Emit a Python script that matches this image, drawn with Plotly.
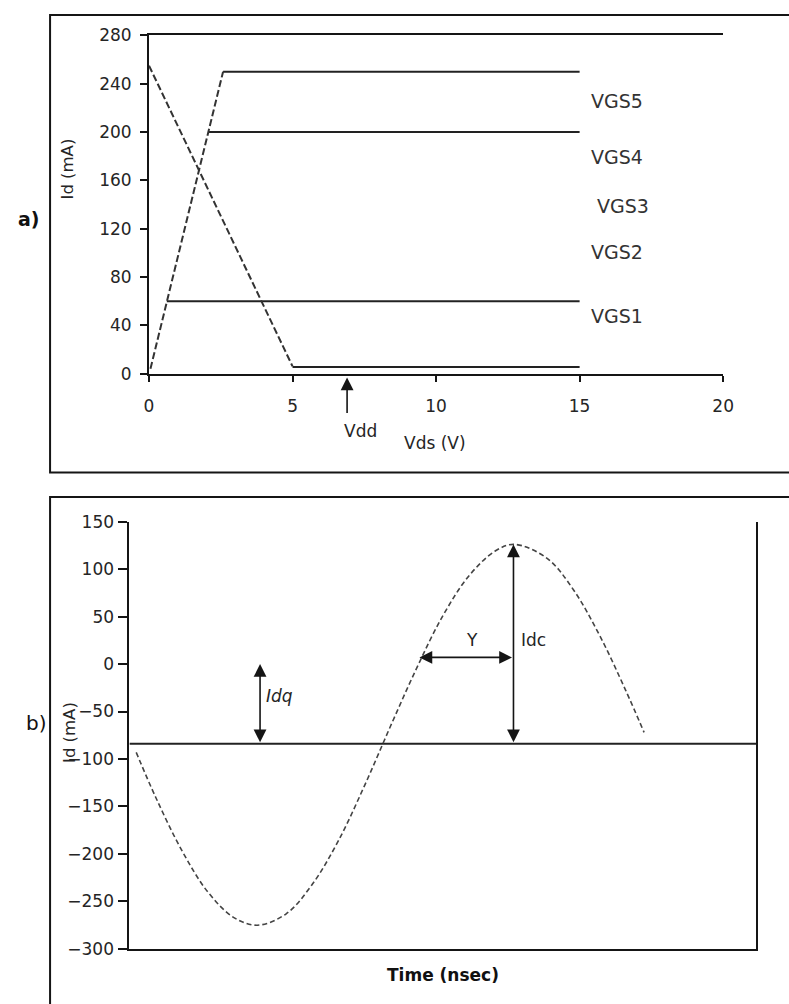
import plotly.graph_objects as go

# ---------------- Panel a) data ----------------
vds_ticks = [0, 5, 10, 15, 20]
id_ticks_a = [0, 40, 80, 120, 160, 200, 240, 280]
plateau_id = [250, 200, 60, 5.5]          # mA
plateau_start = [2.58, 2.09, 0.62, 5.0]   # V
plateau_end = [15, 15, 15, 15]            # V
rise_vds = [0.05, 2.58]
rise_id = [4, 250]
load_vds = [0, 5]
load_id = [255, 6]
vdd_v = 6.9
vgs_names = ["VGS5", "VGS4", "VGS3", "VGS2", "VGS1"]

# ---------------- Panel b) data ----------------
t_ticks = [0, 0.2, 0.4, 0.6, 0.8, 1.0, 1.2]
t_ticktext = ["0", "0.2", "0.4", "0.6", "0.8", "1", "1.2"]
id_ticks_b = [150, 100, 50, 0, -50, -100, -150, -200, -250, -300]
t_ns = [0.013, 0.05, 0.10, 0.15, 0.20, 0.245, 0.30, 0.35, 0.40, 0.45, 0.50,
        0.55, 0.60, 0.65, 0.70, 0.737, 0.80, 0.85, 0.90, 0.95, 0.985]
id_ma = [-93, -140, -196, -240, -267, -275, -263, -232, -186, -128, -65,
         -4, 51, 93, 119, 126, 111, 78, 30, -28, -72]
idq_ma = -84
idq_t = 0.25
idc_t = 0.735
idc_peak = 126
y_span = [0.555, 0.735]
y_level = 7

W, H = 789, 1004
def px(v): return v / W
def py(v): return 1 - v / H

FONT = "DejaVu Sans"
INK = "#151515"
TXT = "#252525"

fig = go.Figure()

# panel a traces
for lvl, x0, x1 in zip(plateau_id, plateau_start, plateau_end):
    fig.add_trace(go.Scatter(x=[x0, x1], y=[lvl, lvl], mode="lines",
                             line=dict(color="#222", width=2),
                             xaxis="x", yaxis="y", hoverinfo="skip"))
fig.add_trace(go.Scatter(x=rise_vds, y=rise_id, mode="lines",
                         line=dict(color="#333", width=2, dash="7px,3px"),
                         xaxis="x", yaxis="y"))
fig.add_trace(go.Scatter(x=load_vds, y=load_id, mode="lines",
                         line=dict(color="#333", width=2, dash="7px,3px"),
                         xaxis="x", yaxis="y"))

# panel b traces
fig.add_trace(go.Scatter(x=[0, 1.2], y=[idq_ma, idq_ma], mode="lines",
                         line=dict(color="#222", width=2),
                         xaxis="x2", yaxis="y2"))
fig.add_trace(go.Scatter(x=t_ns, y=id_ma, mode="lines", line_shape="spline",
                         line=dict(color="#444", width=1.6, dash="5px,3px"),
                         xaxis="x2", yaxis="y2"))

ax_common = dict(showgrid=False, zeroline=False, showline=True,
                 linecolor=INK, linewidth=2, ticks="outside",
                 tickcolor=INK, tickwidth=1.5,
                 tickfont=dict(family=FONT, size=17, color=TXT))

dom_b = [py(958), py(522)]
pos_zero = dom_b[0] + (0 - (-300)) / 450 * (dom_b[1] - dom_b[0])

fig.update_layout(
    width=W, height=H, margin=dict(l=0, r=0, t=0, b=0),
    paper_bgcolor="white", plot_bgcolor="white", showlegend=False,
    font=dict(family=FONT, color=TXT),
    xaxis=dict(ax_common, domain=[px(147), px(733)], range=[0, 20], anchor="y",
               tickvals=vds_ticks, mirror=True, ticklen=6, ticklabelstandoff=10),
    yaxis=dict(ax_common, domain=[py(371), py(26)], range=[0, 280], anchor="x",
               tickvals=id_ticks_a, ticklen=7, ticklabelstandoff=5),
    xaxis2=dict(ax_common, domain=[px(127), px(767)], range=[0, 1.2], anchor="y2",
                ticks="", showticklabels=False),
    xaxis3=dict(ax_common, domain=[px(127), px(767)], range=[0, 1.2],
                overlaying="x2", anchor="free", position=pos_zero,
                tickvals=t_ticks, ticktext=t_ticktext, ticklen=5,
                ticklabelstandoff=15),
    yaxis2=dict(ax_common, domain=dom_b, range=[-300, 150], anchor="x2",
                tickvals=id_ticks_b, mirror=True, ticklen=9, ticklabelstandoff=1),
)

C = dict(xanchor="center", yanchor="middle", showarrow=False)
ann = []
# VGS labels
vgs_pos = [(16.3, 226), (16.3, 179), (16.5, 139), (16.3, 101), (16.3, 48)]
for name, (lx, ly) in zip(vgs_names, vgs_pos):
    ann.append(dict(C, x=lx, y=ly, xref="x", yref="y", text=name,
                    font=dict(size=19, color="#333")))
# Vdd arrow + label (below the axis, so y in paper units)
ann.append(dict(x=vdd_v, y=py(375), xref="x", yref="paper",
                ax=0, ay=37, axref="pixel", ayref="pixel", text="",
                showarrow=True, arrowhead=2, arrowsize=1.6, arrowwidth=1.6,
                arrowcolor=INK))
ann.append(dict(C, x=vdd_v + 0.45, y=py(430), xref="x", yref="paper", text="Vdd",
                font=dict(size=17)))
ann.append(dict(C, x=9.95, y=py(442), xref="x", yref="paper", text="Vds (V)",
                font=dict(size=17)))
ann.append(dict(C, x=px(64), y=py(162), xref="paper", yref="paper", text="Id (mA)",
                textangle=-90, font=dict(size=16.5)))
ann.append(dict(C, x=px(24), y=py(213), xref="paper", yref="paper", text="<b>a)</b>",
                font=dict(size=19, color="#111")))

# panel b annotations
ann.append(dict(x=idq_t, y=0, ax=idq_t, ay=idq_ma, xref="x2", yref="y2",
                axref="x2", ayref="y2", text="", showarrow=True, arrowhead=2,
                arrowside="end+start", arrowsize=1.6, arrowwidth=1.6,
                arrowcolor=INK))
ann.append(dict(x=idc_t, y=idc_peak, ax=idc_t, ay=idq_ma, xref="x2", yref="y2",
                axref="x2", ayref="y2", text="", showarrow=True, arrowhead=2,
                arrowside="end+start", arrowsize=1.6, arrowwidth=1.6,
                arrowcolor=INK))
ann.append(dict(x=y_span[0], y=y_level, ax=y_span[1], ay=y_level, xref="x2",
                yref="y2", axref="x2", ayref="y2", text="", showarrow=True,
                arrowhead=2, arrowside="end+start", arrowsize=1.6,
                arrowwidth=1.6, arrowcolor=INK))
ann.append(dict(C, x=0.257, y=-34, xref="x2", yref="y2", text="<i>Idq</i>",
                font=dict(size=17)))
ann[-1]["xanchor"] = "left"
ann.append(dict(C, x=0.745, y=25, xref="x2", yref="y2", text="Idc",
                font=dict(size=17)))
ann[-1]["xanchor"] = "left"
ann.append(dict(C, x=0.655, y=25, xref="x2", yref="y2", text="Y",
                font=dict(size=17)))
ann.append(dict(C, x=px(447), y=py(985), xref="paper", yref="paper",
                text="<b>Time (nsec)</b>", font=dict(size=17, color="#111")))
ann.append(dict(C, x=px(66), y=py(737), xref="paper", yref="paper", text="Id (mA)",
                textangle=-90, font=dict(size=16.5)))
ann.append(dict(C, x=px(32), y=py(728), xref="paper", yref="paper", text="b)",
                font=dict(size=20, color="#111")))
fig.update_layout(annotations=ann)

# outer frames
fig.add_shape(type="rect", xref="paper", yref="paper", x0=px(46), x1=1.05,
              y0=py(472), y1=py(5), line=dict(color=INK, width=2))
fig.add_shape(type="rect", xref="paper", yref="paper", x0=px(46), x1=1.05,
              y0=-0.05, y1=py(497), line=dict(color=INK, width=2))

fig.write_html("out.html", config={"displayModeBar": False},
               post_script="document.body.style.margin='0px';"
                           "document.body.style.overflow='hidden';")
